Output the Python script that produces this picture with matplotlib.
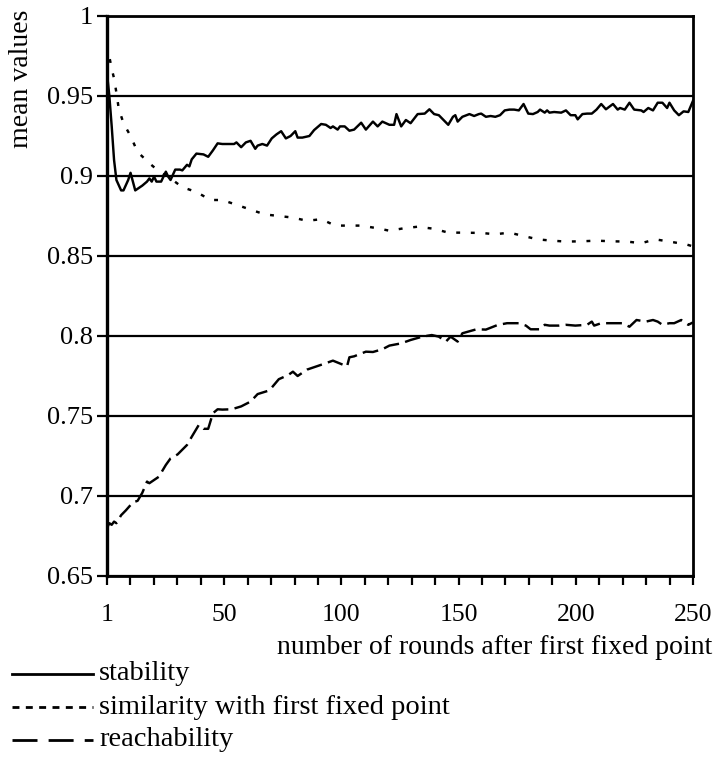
import numpy as np
import matplotlib as mpl
mpl.use('Agg')
import matplotlib.pyplot as plt
from matplotlib.lines import Line2D

# values (round, mean value)
stab_rounds = [1, 2, 3, 4, 5, 7, 8, 10, 11, 12, 13, 14, 16, 18, 19, 20, 21, 22, 24, 26,
	27, 28, 30, 32, 33, 35, 36, 37, 39, 42, 44, 46, 48, 50, 52, 55, 56, 58, 60, 62,
	64, 65, 67, 69, 71, 73, 75, 77, 79, 81, 82, 84, 87, 89, 92, 94, 96, 97, 99, 100,
	102, 104, 106, 109, 111, 114, 116, 118, 121, 123, 124, 126, 128, 130, 133, 136, 138, 140, 142, 144,
	146, 148, 149, 150, 152, 155, 157, 159, 160, 162, 164, 166, 168, 170, 172, 174, 176, 178, 180, 182,
	184, 185, 187, 188, 189, 191, 194, 196, 198, 200, 201, 203, 205, 207, 209, 211, 213, 216, 218, 219,
	221, 223, 225, 228, 229, 231, 233, 235, 237, 239, 240, 242, 244, 246, 248, 250]
stability = [0.964, 0.950, 0.931, 0.910, 0.8975, 0.891, 0.891, 0.8975, 0.902, 0.8965, 0.891, 0.892, 0.894, 0.8965, 0.8985, 0.8965, 0.8996, 0.8965, 0.8965, 0.9027,
	0.8996, 0.8975, 0.904, 0.904, 0.9035, 0.907, 0.906, 0.9104, 0.914, 0.9135, 0.912, 0.916, 0.9204, 0.920, 0.920, 0.920, 0.921, 0.918, 0.921, 0.922,
	0.917, 0.919, 0.920, 0.919, 0.9235, 0.926, 0.928, 0.9235, 0.925, 0.928, 0.924, 0.924, 0.925, 0.9287, 0.9325, 0.932, 0.930, 0.931, 0.929, 0.931,
	0.931, 0.9283, 0.929, 0.9333, 0.929, 0.934, 0.931, 0.934, 0.932, 0.932, 0.9387, 0.931, 0.935, 0.933, 0.9387, 0.939, 0.9417, 0.9387, 0.938, 0.935,
	0.932, 0.937, 0.938, 0.934, 0.937, 0.9387, 0.9375, 0.9387, 0.939, 0.937, 0.9375, 0.937, 0.938, 0.941, 0.9415, 0.9415, 0.941, 0.945, 0.939, 0.9387,
	0.940, 0.9415, 0.9396, 0.941, 0.9396, 0.940, 0.9396, 0.941, 0.938, 0.938, 0.9354, 0.9387, 0.939, 0.939, 0.9415, 0.945, 0.9417, 0.945, 0.9415, 0.9425,
	0.9415, 0.9458, 0.9415, 0.941, 0.940, 0.9425, 0.941, 0.9458, 0.9458, 0.9425, 0.9458, 0.941, 0.938, 0.9404, 0.940, 0.947]

sim_rounds = [1, 3, 4, 5, 6, 8, 11, 14, 19, 23, 28, 33, 39, 45, 50, 56, 62, 68, 74, 80,
	86, 92, 98, 104, 109, 116, 121, 127, 133, 140, 146, 152, 160, 166, 172, 178, 184, 190, 196, 203,
	209, 215, 222, 228, 234, 240, 247, 250]
similarity = [0.982, 0.967, 0.961, 0.952, 0.942, 0.933, 0.925, 0.915, 0.908, 0.903, 0.8985, 0.893, 0.890, 0.885, 0.885, 0.882, 0.879, 0.876, 0.875, 0.874,
	0.872, 0.873, 0.869, 0.869, 0.869, 0.8673, 0.8658, 0.8673, 0.8683, 0.867, 0.8646, 0.8646, 0.8644, 0.8636, 0.8646, 0.8625, 0.8604, 0.8596, 0.859, 0.8592,
	0.8596, 0.8592, 0.859, 0.858, 0.8604, 0.859, 0.8573, 0.856]

reach_rounds = [1, 2, 3, 4, 5, 7, 9, 12, 14, 16, 18, 19, 21, 23, 26, 28, 31, 35, 37, 40,
	42, 44, 46, 48, 50, 54, 58, 62, 65, 70, 74, 78, 80, 82, 86, 88, 93, 97, 103, 104,
	106, 111, 114, 118, 121, 126, 130, 135, 139, 142, 145, 147, 150, 152, 158, 162, 167, 171, 176, 179,
	181, 185, 187, 189, 193, 196, 200, 205, 207, 208, 211, 213, 217, 220, 222, 223, 226, 230, 233, 235,
	237, 240, 242, 245, 248, 250]
reachability = [0.680, 0.683, 0.682, 0.684, 0.683, 0.688, 0.691, 0.696, 0.697, 0.702, 0.709, 0.708, 0.710, 0.712, 0.7194, 0.7235, 0.726, 0.7319, 0.737, 0.7444,
	0.742, 0.742, 0.7517, 0.7542, 0.754, 0.7542, 0.756, 0.759, 0.7637, 0.766, 0.773, 0.7756, 0.7777, 0.775, 0.779, 0.780, 0.7825, 0.7846, 0.781, 0.7867,
	0.7873, 0.7902, 0.790, 0.7917, 0.794, 0.7954, 0.7975, 0.7996, 0.8006, 0.7996, 0.7965, 0.7996, 0.7965, 0.8017, 0.8042, 0.804, 0.8069, 0.808, 0.808, 0.8065,
	0.8042, 0.8042, 0.807, 0.8065, 0.8065, 0.807, 0.8065, 0.807, 0.809, 0.8065, 0.808, 0.808, 0.808, 0.808, 0.8065, 0.8058, 0.810, 0.809, 0.810, 0.809,
	0.807, 0.808, 0.808, 0.810, 0.807, 0.8085]

series_labels = ['stability', 'similarity with first fixed point', 'reachability']
x_labels = ['1', '50', '100', '150', '200', '250']
y_ticks = [0.65, 0.7, 0.75, 0.8, 0.85, 0.9, 0.95, 1]
y_labels = ['0.65', '0.7', '0.75', '0.8', '0.85', '0.9', '0.95', '1']

plt.rcParams['font.family'] = ['Liberation Serif', 'DejaVu Serif']

W, H = 717, 757
fig = plt.figure(figsize=(W / 100, H / 100), dpi=100)
ax = fig.add_axes([107 / W, 1 - 576 / H, 586 / W, 560 / H])

styles = [dict(ls='-'), dict(dashes=(1.6, 4.4)), dict(dashes=(6.5, 2.6))]
data = [(stab_rounds, stability), (sim_rounds, similarity), (reach_rounds, reachability)]
for (xs, ys), st in zip(data, styles):
	ax.plot(xs, ys, color='black', lw=1.75, solid_joinstyle='round', dash_capstyle='butt', **st)

ax.set_xlim(1, 250)
ax.set_ylim(0.65, 1)
xt = np.linspace(1, 250, 26)
ax.set_xticks(xt)
ax.set_xticklabels([x_labels[i // 5] if i % 5 == 0 else '' for i in range(26)])
ax.set_yticks(y_ticks)
ax.set_yticklabels(y_labels)
ax.yaxis.grid(True, color='black', lw=1.6)
ax.set_axisbelow(True)
ax.tick_params(axis='x', direction='out', length=6.5, width=1.6, labelsize=18.5, pad=14)
ax.tick_params(axis='y', direction='out', length=7, width=1.6, labelsize=19, pad=3)
for side in ['left', 'bottom', 'right', 'top']:
	ax.spines[side].set_linewidth(2)
ax.spines['left'].set_linewidth(2.4)

fig.text(22 / W, 1 - 10 / H, 'mean values', rotation=90, ha='center', va='top', fontsize=20)
fig.text(712 / W, 1 - 647 / H, 'number of rounds after first fixed point', ha='right', va='center', fontsize=20)

# legend below the chart
leg_dashes = [None, (2.5, 2.3), (9, 4)]
for i, lab in enumerate(series_labels):
	yy = 1 - (674 + 33 * i) / H
	kw = {'dashes': leg_dashes[i]} if leg_dashes[i] else {}
	fig.add_artist(Line2D([12 / W, 93 / W], [yy, yy], transform=fig.transFigure, color='black', lw=2, dash_capstyle='butt', **kw))
	fig.text(99 / W, yy, lab, ha='left', va='center', fontsize=20.5)

plt.savefig('out.png', dpi=100)
